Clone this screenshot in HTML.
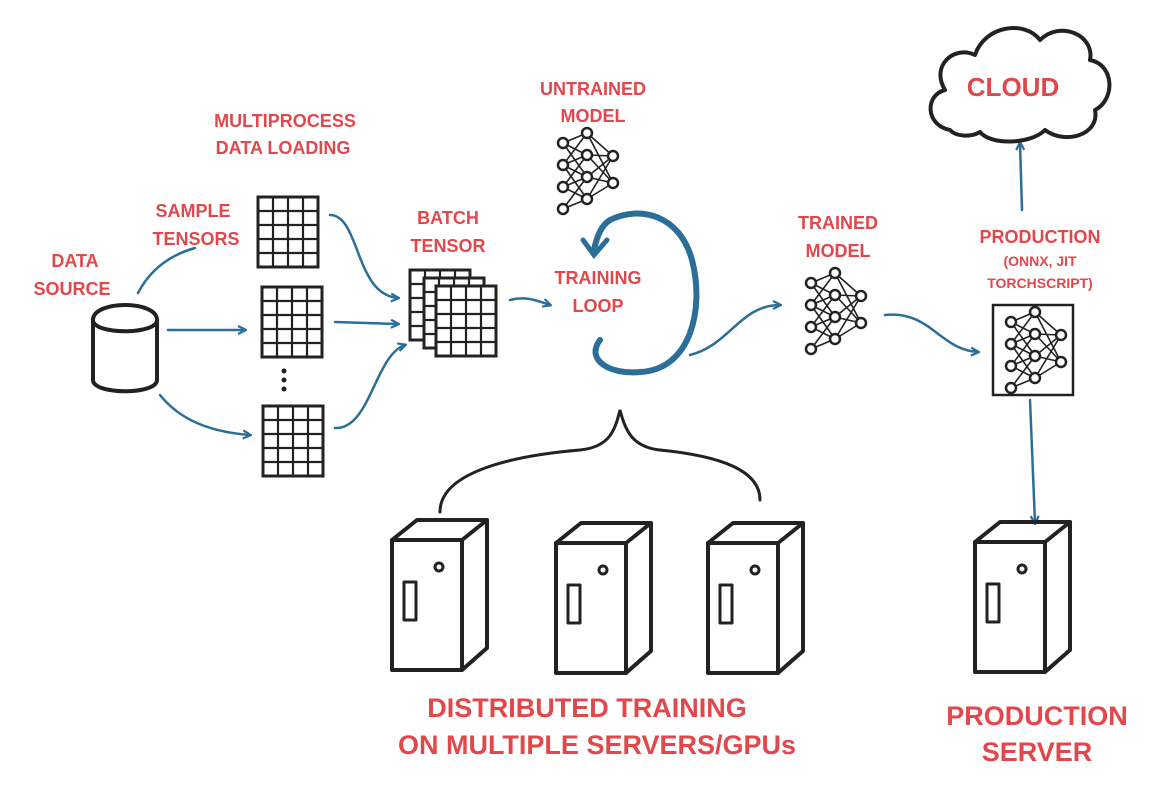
<!DOCTYPE html>
<html><head><meta charset="utf-8"><style>
html,body{margin:0;padding:0;background:#fff;}
svg{display:block;}
.r{fill:#e2474b;font-family:"Liberation Sans",sans-serif;font-weight:bold;text-anchor:middle;}
.b{fill:none;stroke:#2b6e98;stroke-width:2.5;stroke-linecap:round;}
.k{fill:none;stroke:#222;stroke-width:4;stroke-linecap:round;stroke-linejoin:round;}
</style></head><body>
<svg width="1167" height="785" viewBox="0 0 1167 785" xmlns="http://www.w3.org/2000/svg">
<defs>
<marker id="a" markerWidth="10" markerHeight="10" refX="8" refY="5" orient="auto" markerUnits="userSpaceOnUse">
<path d="M1,1 L9,5 L1,9" fill="none" stroke="#2b6e98" stroke-width="2.2"/></marker>
<g id="grd">
<rect x="0" y="0" width="60" height="70" fill="#fff" stroke="#222" stroke-width="3"/>
<path d="M15,0 V70 M30,0 V70 M45,0 V70 M0,14 H60 M0,28 H60 M0,42 H60 M0,56 H60" stroke="#222" stroke-width="2.2" fill="none"/>
</g>
<g id="nn">
<g stroke="#222" stroke-width="1.6" fill="none">
<path d="M8,15 L32,5 M8,15 L32,27 M8,15 L32,49 M8,37 L32,5 M8,37 L32,27 M8,37 L32,49 M8,37 L32,71 M8,59 L32,27 M8,59 L32,49 M8,59 L32,71 M8,81 L32,49 M8,81 L32,71 M32,5 L58,28 M32,27 L58,28 M32,49 L58,28 M32,27 L58,55 M32,49 L58,55 M32,71 L58,55 M32,5 L58,55 M32,71 L58,28"/></g>
<g fill="#fff" stroke="#222" stroke-width="2.5">
<circle cx="8" cy="15" r="5"/><circle cx="8" cy="37" r="5"/><circle cx="8" cy="59" r="5"/><circle cx="8" cy="81" r="5"/>
<circle cx="32" cy="5" r="5"/><circle cx="32" cy="27" r="5"/><circle cx="32" cy="49" r="5"/><circle cx="32" cy="71" r="5"/>
<circle cx="58" cy="28" r="5"/><circle cx="58" cy="55" r="5"/></g></g>
<g id="srv">
<path class="k" d="M0,20 L70,20 L70,150 L0,150 Z M0,20 L25,0 L95,0 L95,128 L70,150 M70,20 L95,0"/>
<rect x="12" y="62" width="12" height="38" class="k" style="stroke-width:3"/>
<circle cx="47" cy="47" r="4" class="k" style="stroke-width:3"/>
</g>
</defs>
<rect width="1167" height="785" fill="#fff"/>
<g class="r" font-size="18">
<text x="75" y="267">DATA</text><text x="72" y="295">SOURCE</text>
<text x="193" y="217">SAMPLE</text><text x="196" y="245">TENSORS</text>
<text x="285" y="127">MULTIPROCESS</text><text x="283" y="154">DATA LOADING</text>
<text x="448" y="224">BATCH</text><text x="448" y="252">TENSOR</text>
<text x="593" y="95">UNTRAINED</text><text x="593" y="122">MODEL</text>
<text x="598" y="284">TRAINING</text><text x="598" y="312">LOOP</text>
<text x="838" y="229">TRAINED</text><text x="838" y="257">MODEL</text>
<text x="1040" y="243">PRODUCTION</text>
<text x="1040" y="266" font-size="14">(ONNX, JIT</text><text x="1040" y="288" font-size="14">TORCHSCRIPT)</text>
<text x="1013" y="96" font-size="26">CLOUD</text>
<text x="587" y="717" font-size="27">DISTRIBUTED TRAINING</text>
<text x="597" y="754" font-size="27">ON MULTIPLE SERVERS/GPUs</text>
<text x="1037" y="725" font-size="27">PRODUCTION</text>
<text x="1037" y="761" font-size="27">SERVER</text>
</g>
<path class="k" d="M93,320 C93,300 157,300 157,320 L157,380 C157,395 93,395 93,380 Z M93,320 C93,335 157,335 157,320"/>
<use href="#grd" x="258" y="197"/>
<use href="#grd" x="262" y="287"/>
<use href="#grd" x="263" y="406"/>
<circle cx="284" cy="371" r="2.5" fill="#222"/><circle cx="284" cy="380" r="2.5" fill="#222"/><circle cx="284" cy="389" r="2.5" fill="#222"/>
<use href="#grd" x="410" y="270"/>
<use href="#grd" x="424" y="278"/>
<use href="#grd" x="436" y="286"/>
<path class="b" d="M138,293 C150,270 170,255 195,248"/>
<path class="b" d="M168,330 L245,330" marker-end="url(#a)"/>
<path class="b" d="M160,395 C180,420 210,432 250,435" marker-end="url(#a)"/>
<path class="b" d="M330,215 C360,215 355,295 398,298" marker-end="url(#a)"/>
<path class="b" d="M335,322 L398,324" marker-end="url(#a)"/>
<path class="b" d="M335,428 C370,430 375,355 405,345" marker-end="url(#a)"/>
<path class="b" d="M510,300 C525,296 535,300 550,305" marker-end="url(#a)"/>
<path class="b" d="M690,355 C730,345 740,305 780,305" marker-end="url(#a)"/>
<path class="b" d="M885,315 C930,310 940,350 978,352" marker-end="url(#a)"/>
<path class="b" d="M1022,210 L1020,143" marker-end="url(#a)"/>
<path class="b" d="M1030,400 L1035,523" marker-end="url(#a)"/>
<path d="M600,340 C585,360 610,375 640,372 C690,370 705,310 692,260 C680,215 640,205 610,220 C600,226 596,240 594,250" fill="none" stroke="#2b6e98" stroke-width="6" stroke-linecap="round"/>
<path d="M583,240 L594,255 L607,240" fill="none" stroke="#2b6e98" stroke-width="5" stroke-linecap="round"/>
<use href="#nn" x="555" y="128"/>
<use href="#nn" x="803" y="268"/>
<rect x="993" y="305" width="80" height="90" fill="none" stroke="#222" stroke-width="2.5"/>
<use href="#nn" x="1003" y="307"/>
<path class="k" d="M950,130 C925,125 925,95 945,90 C930,65 955,45 975,55 C985,25 1025,20 1040,40 C1060,20 1095,35 1090,60 C1115,65 1115,100 1095,110 C1100,135 1065,145 1045,130 C1030,145 990,145 980,132 C970,138 955,136 950,130 Z"/>
<path d="M440,512 C440,470 520,455 580,450 C610,447 615,430 620,410 C625,430 632,447 660,450 C720,456 760,470 760,500" fill="none" stroke="#222" stroke-width="3" stroke-linecap="round"/>
<use href="#srv" x="392" y="520"/>
<use href="#srv" x="556" y="523"/>
<use href="#srv" x="708" y="523"/>
<use href="#srv" x="975" y="522"/>
</svg>
</body></html>
